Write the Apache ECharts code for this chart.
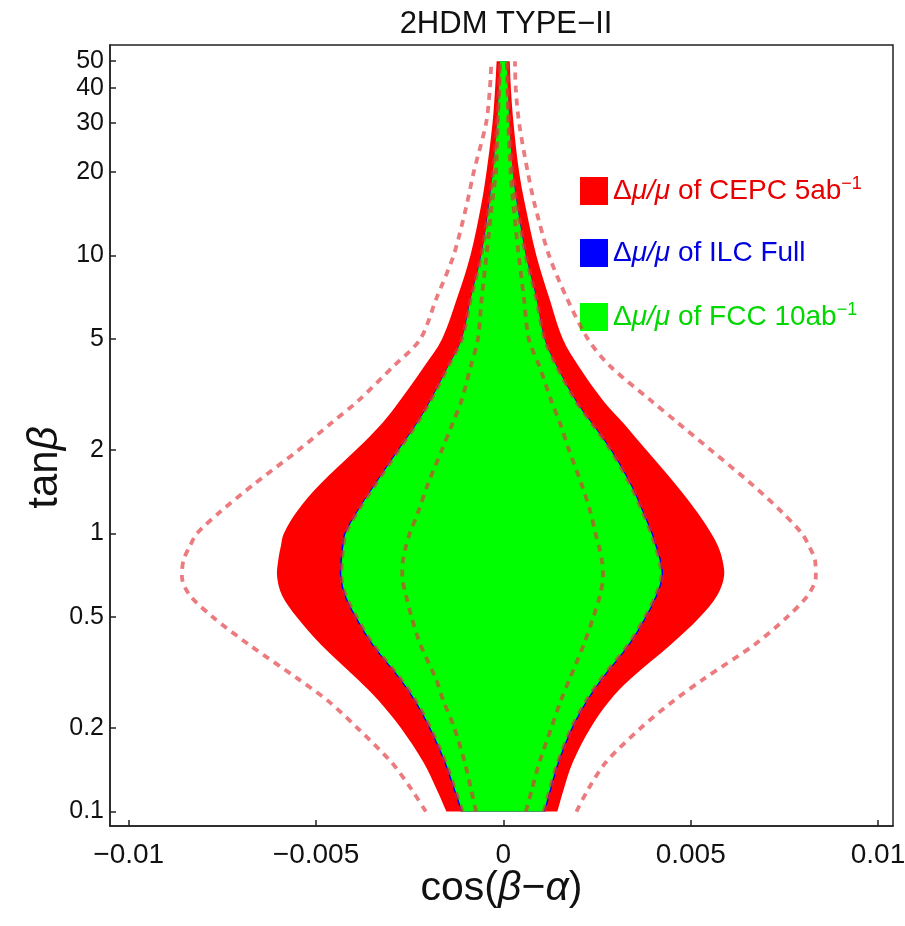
<!DOCTYPE html>
<html><head><meta charset="utf-8">
<script src="https://cdn.jsdelivr.net/npm/echarts@6/dist/echarts.min.js"></script>
<style>html,body{margin:0;padding:0;background:#fff}#c{width:905px;height:926px}</style>
</head><body><div id="c"></div>
<script>
// tan(beta) sample levels (ascending)
const tanb = [0.1, 0.12, 0.15, 0.2, 0.25, 0.3, 0.4, 0.5, 0.6, 0.7, 0.8, 0.9, 1, 1.2, 1.5, 2, 2.5, 3, 4, 5, 7, 10, 15, 20, 30, 40, 50];

// CEPC 5ab^-1 region (red) boundaries in cos(beta-alpha)
const cepcLeft  = [-0.00152, -0.00178, -0.00213, -0.00274, -0.00332, -0.00390, -0.00488, -0.00551, -0.00591, -0.00604, -0.00601, -0.00594, -0.00586, -0.00551, -0.00490, -0.00393, -0.00323, -0.00277, -0.00211, -0.00164, -0.00124, -0.00088, -0.00060, -0.00045, -0.00029, -0.00022, -0.00018];
const cepcRight = [0.00144, 0.00161, 0.00185, 0.00233, 0.00283, 0.00339, 0.00448, 0.00524, 0.00571, 0.00589, 0.00585, 0.00573, 0.00555, 0.00516, 0.00460, 0.00381, 0.00320, 0.00267, 0.00201, 0.00159, 0.00123, 0.00088, 0.00059, 0.00042, 0.00027, 0.00020, 0.00017];

// ILC Full region (blue)
const ilcLeft  = [-0.00113, -0.00133, -0.00158, -0.00199, -0.00238, -0.00278, -0.00352, -0.00396, -0.00425, -0.00436, -0.00435, -0.00431, -0.00425, -0.00392, -0.00345, -0.00282, -0.00232, -0.00197, -0.00148, -0.00112, -0.00088, -0.00060, -0.00040, -0.00028, -0.00017, -0.00012, -0.00009];
const ilcRight = [0.00112, 0.00128, 0.00149, 0.00186, 0.00225, 0.00265, 0.00338, 0.00382, 0.00411, 0.00426, 0.00421, 0.00410, 0.00399, 0.00374, 0.00342, 0.00289, 0.00237, 0.00195, 0.00143, 0.00111, 0.00089, 0.00061, 0.00038, 0.00025, 0.00016, 0.00012, 0.00010];

// FCC 10ab^-1 region (green)
const fccLeft  = [-0.00109, -0.00129, -0.00154, -0.00195, -0.00234, -0.00274, -0.00348, -0.00392, -0.00421, -0.00432, -0.00431, -0.00427, -0.00421, -0.00389, -0.00342, -0.00279, -0.00230, -0.00195, -0.00147, -0.00111, -0.00087, -0.00059, -0.00039, -0.00028, -0.00017, -0.00012, -0.00009];
const fccRight = [0.00108, 0.00124, 0.00145, 0.00182, 0.00221, 0.00261, 0.00334, 0.00378, 0.00407, 0.00422, 0.00417, 0.00406, 0.00395, 0.00371, 0.00339, 0.00286, 0.00235, 0.00193, 0.00142, 0.00110, 0.00088, 0.00060, 0.00037, 0.00025, 0.00016, 0.00012, 0.00010];

// dashed contours
const outerLeft  = [-0.00207, -0.00245, -0.00298, -0.00390, -0.00468, -0.00548, -0.00681, -0.00775, -0.00837, -0.00858, -0.00854, -0.00837, -0.00818, -0.00755, -0.00667, -0.00546, -0.00459, -0.00388, -0.00293, -0.00222, -0.00179, -0.00133, -0.00099, -0.00079, -0.00046, -0.00036, -0.00032];
const outerRight = [0.00195, 0.00226, 0.00273, 0.00367, 0.00454, 0.00535, 0.00672, 0.00757, 0.00813, 0.00834, 0.00832, 0.00816, 0.00797, 0.00742, 0.00664, 0.00553, 0.00466, 0.00395, 0.00285, 0.00226, 0.00170, 0.00122, 0.00085, 0.00065, 0.00042, 0.00033, 0.00031];
const innerLeft  = [-0.00073, -0.00086, -0.00103, -0.00131, -0.00160, -0.00180, -0.00222, -0.00245, -0.00260, -0.00270, -0.00268, -0.00260, -0.00250, -0.00227, -0.00202, -0.00164, -0.00135, -0.00112, -0.00087, -0.00068, -0.00058, -0.00045, -0.00031, -0.00020, -0.00015, -0.00011, -0.00009];
const innerRight = [0.00060, 0.00076, 0.00096, 0.00128, 0.00153, 0.00177, 0.00215, 0.00240, 0.00258, 0.00266, 0.00263, 0.00255, 0.00246, 0.00232, 0.00209, 0.00175, 0.00151, 0.00128, 0.00096, 0.00068, 0.00055, 0.00041, 0.00027, 0.00019, 0.00013, 0.00011, 0.00009];

// tick labels
const xTicks = [-0.01, -0.005, 0, 0.005, 0.01];
const yTicks = [0.1, 0.2, 0.5, 1, 2, 5, 10, 20, 30, 40, 50];

const FONT = 'Liberation Sans, Arial, sans-serif';
const DASH = 'rgba(226,48,56,0.64)';

function polyPoints(L, R) {
  const pts = [];
  for (let i = 0; i < tanb.length; i++) pts.push([L[i], tanb[i]]);
  for (let i = tanb.length - 1; i >= 0; i--) pts.push([R[i], tanb[i]]);
  return pts;
}
function fillSeries(name, color, L, R, z) {
  const pts = polyPoints(L, R);
  const n = tanb.length;
  return {
    type: 'custom', name: name, z: z, coordinateSystem: 'cartesian2d',
    itemStyle: { color: color }, data: pts, encode: { x: 0, y: 1 }, silent: true,
    renderItem: function (params, api) {
      if (params.dataIndex !== 0) return;
      const c = pts.map(p => api.coord(p));
      const out = [];
      c.forEach((p, i) => { out.push(p); if (i === 0 || i === n - 1 || i === n || i === 2 * n - 1) out.push(p.slice()); });
      return { type: 'polygon', shape: { points: out, smooth: 0.35 }, style: { fill: color } };
    }
  };
}
function dashSeries(xs, z) {
  return {
    type: 'line', data: tanb.map((t, i) => [xs[i], t]), smooth: 0.3, symbol: 'none', silent: true, z: z,
    lineStyle: { color: DASH, width: 3.8, type: [7, 6] }
  };
}

const legendText = {
  'CEPC': '{g|Δ}{i|μ/μ}{t| of CEPC 5ab}{s|−1}',
  'ILC': '{g|Δ}{i|μ/μ}{t| of ILC Full}',
  'FCC': '{g|Δ}{i|μ/μ}{t| of FCC 10ab}{s|−1}'
};

const chart = echarts.init(document.getElementById('c'));
chart.setOption({
  animation: false,
  backgroundColor: '#fff',
  title: {
    text: '2HDM TYPE−II', left: 501, top: 4, textAlign: 'center',
    textStyle: { fontFamily: FONT, fontSize: 31, fontWeight: 'normal', color: '#111' }
  },
  legend: {
    orient: 'vertical', left: 580, top: 175, padding: 0, itemWidth: 28, itemHeight: 28, itemGap: 34,
    icon: 'rect', selectedMode: false,
    data: [
      { name: 'CEPC', textStyle: { color: '#e80000' } },
      { name: 'ILC', textStyle: { color: '#0000e0' } },
      { name: 'FCC', textStyle: { color: '#00d800' } }
    ],
    formatter: n => legendText[n],
    textStyle: {
      fontFamily: FONT, fontSize: 28,
      rich: {
        g: { fontFamily: FONT, fontSize: 28, lineHeight: 32 },
        i: { fontFamily: FONT, fontSize: 28, fontStyle: 'italic', lineHeight: 32 },
        t: { fontFamily: FONT, fontSize: 28, lineHeight: 32 },
        s: { fontFamily: FONT, fontSize: 18, verticalAlign: 'top', lineHeight: 18 }
      }
    }
  },
  grid: { left: 110, right: 12, top: 45, bottom: 100, show: true, borderColor: '#222', borderWidth: 1.5,
    outerBoundsMode: 'none', containLabel: false },
  xAxis: {
    type: 'value', min: -0.0105, max: 0.0104,
    name: '{n|cos(}{i|β}{n|−}{i|α}{n|)}', nameLocation: 'middle', nameGap: 42, nameMoveOverlap: false,
    nameTextStyle: { color: '#111', rich: {
      n: { fontFamily: FONT, fontSize: 41, color: '#111' },
      i: { fontFamily: FONT, fontSize: 41, fontStyle: 'italic', color: '#111' } } },
    axisLine: { show: true, onZero: false, lineStyle: { color: '#222', width: 1.5 } },
    axisTick: { show: true, inside: true, length: 6, customValues: xTicks, lineStyle: { color: '#222', width: 1.5 } },
    axisLabel: { customValues: xTicks, margin: 15, fontFamily: FONT, fontSize: 28, color: '#111',
      formatter: v => v === 0 ? '0' : String(+v.toFixed(4)).replace('-', '−') },
    splitLine: { show: false }
  },
  yAxis: {
    type: 'log', min: 0.0887, max: 57.2,
    name: '{n|tan}{i|β}', nameLocation: 'middle', nameRotate: 90, nameGap: 44, nameMoveOverlap: false,
    nameTextStyle: { color: '#111', padding: [0, 64, 0, 0], rich: {
      n: { fontFamily: FONT, fontSize: 42, color: '#111' },
      i: { fontFamily: FONT, fontSize: 42, fontStyle: 'italic', color: '#111' } } },
    axisLine: { show: true, onZero: false, lineStyle: { color: '#222', width: 1.5 } },
    axisTick: { show: true, inside: true, length: 6, customValues: yTicks, lineStyle: { color: '#222', width: 1.5 } },
    axisLabel: { customValues: yTicks, margin: 6, fontFamily: FONT, fontSize: 25, color: '#111',
      formatter: v => String(+(+v).toPrecision(3)) },
    minorTick: { show: false },
    splitLine: { show: false }
  },
  series: [
    fillSeries('CEPC', '#ff0000', cepcLeft, cepcRight, 1),
    fillSeries('ILC', '#0000ff', ilcLeft, ilcRight, 2),
    fillSeries('FCC', '#00ff00', fccLeft, fccRight, 3),
    dashSeries(outerLeft, 5), dashSeries(outerRight, 5),
    dashSeries(innerLeft, 5), dashSeries(innerRight, 5),
    dashSeries(fccLeft, 5), dashSeries(fccRight, 5)
  ]
});
</script></body></html>
